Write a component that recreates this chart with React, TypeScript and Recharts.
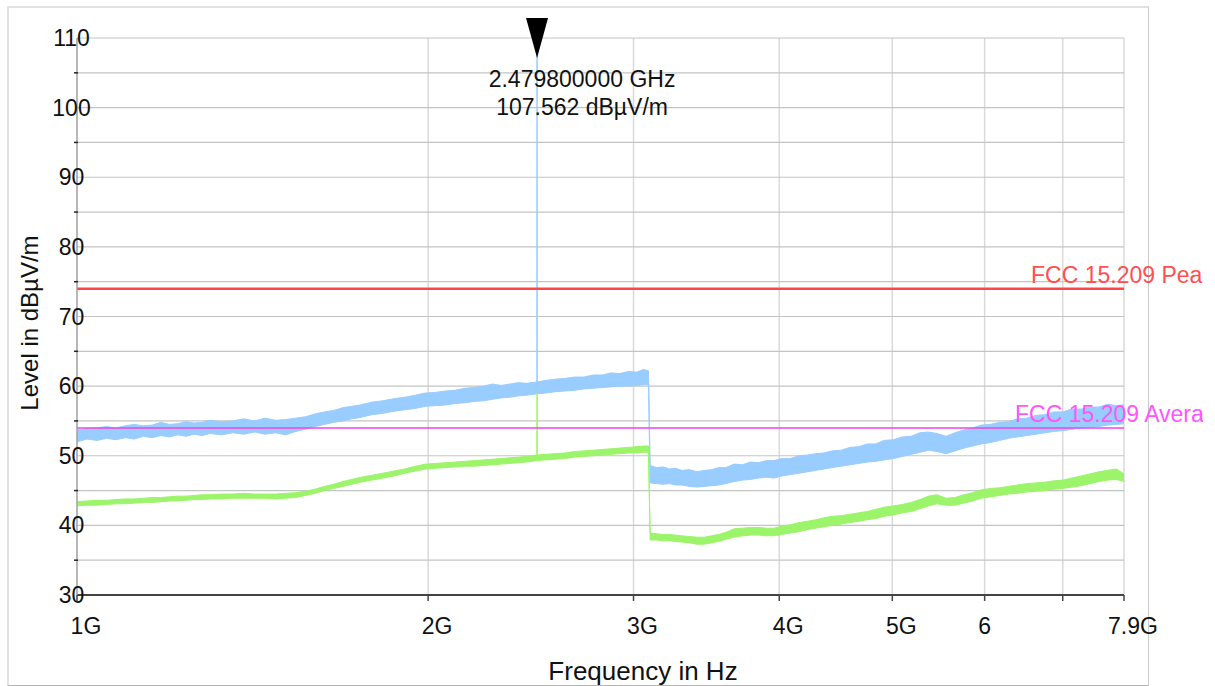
import {
  Area,
  CartesianGrid,
  ComposedChart,
  Customized,
  ReferenceDot,
  ReferenceLine,
  XAxis,
  YAxis,
} from 'recharts';

const FONT = '"Liberation Sans", Arial, Helvetica, sans-serif';

// sweep frequencies in GHz (band split at 3.1 GHz)
const FREQ_GHZ = [
  1.0, 1.02, 1.04, 1.06, 1.08, 1.1, 1.12, 1.14, 1.16, 1.18, 1.2, 1.22, 1.24, 1.26, 1.28, 1.3,
  1.33, 1.36, 1.39, 1.42, 1.45, 1.48, 1.51, 1.54, 1.57, 1.6, 1.63, 1.66, 1.69, 1.72, 1.75,
  1.79, 1.83, 1.87, 1.91, 1.95, 1.99, 2.03, 2.07, 2.11, 2.15, 2.19, 2.23, 2.27, 2.31, 2.35,
  2.39, 2.43, 2.479, 2.4798, 2.4806, 2.52, 2.57, 2.62, 2.67, 2.72, 2.77, 2.82, 2.87, 2.92,
  2.97, 3.02, 3.06, 3.09,
  3.1, 3.14, 3.18, 3.22, 3.26, 3.3, 3.35, 3.4, 3.45, 3.5, 3.55, 3.6, 3.66, 3.72, 3.78, 3.84,
  3.9, 3.96, 4.02, 4.09, 4.16, 4.23, 4.3, 4.37, 4.44, 4.52, 4.6, 4.68, 4.76, 4.84, 4.92,
  5.01, 5.1, 5.19, 5.28, 5.37, 5.46, 5.56, 5.66, 5.76, 5.86, 5.96, 6.07, 6.18, 6.29, 6.4,
  6.52, 6.64, 6.76, 6.88, 7.0, 7.13, 7.26, 7.39, 7.52, 7.65, 7.78, 7.9,
];

// peak detector trace, band bottom / top in dBµV/m
const PEAK_LO = [
  52.0, 52.4, 52.2, 52.5, 52.3, 52.6, 52.4, 52.8, 52.6, 52.9, 52.7, 53.0, 52.8, 53.1, 52.9, 53.2,
  53.0, 53.3, 53.1, 53.4, 53.1, 53.3, 53.0, 53.5, 53.8, 54.2, 54.5, 54.8, 55.0, 55.3, 55.5,
  55.9, 56.1, 56.4, 56.6, 56.8, 57.1, 57.2, 57.3, 57.5, 57.6, 57.8, 57.9, 58.1, 58.3, 58.4,
  58.6, 58.7, 58.9, 59.0, 58.9, 59.0, 59.2, 59.3, 59.4, 59.6, 59.7, 59.8, 59.9, 60.0,
  60.0, 60.1, 60.2, 60.2,
  46.1, 46.0, 45.9, 46.0, 45.8, 45.8, 45.6, 45.5, 45.6, 45.7, 45.8, 46.0, 46.3, 46.5, 46.6, 46.8,
  46.9, 46.8, 47.1, 47.3, 47.5, 47.7, 47.9, 48.1, 48.3, 48.5, 48.7, 48.9, 49.1, 49.2, 49.4,
  49.6, 49.9, 50.2, 50.5, 50.8, 50.6, 50.3, 50.7, 51.1, 51.4, 51.7, 51.9, 52.2, 52.5, 52.7,
  52.9, 53.1, 53.3, 53.5, 53.6, 53.8, 54.0, 54.1, 54.2, 54.4, 54.5, 54.6,
];
const PEAK_HI = [
  53.7, 53.9, 54.0, 54.2, 54.0, 54.3, 54.5, 54.3, 54.4, 54.8, 54.5, 54.6, 54.9, 54.7, 54.8, 55.1,
  54.9, 55.0, 55.3, 55.0, 55.4, 55.1, 55.2, 55.4, 55.6, 56.0, 56.3, 56.5, 56.9, 57.1, 57.3,
  57.7, 57.9, 58.2, 58.4, 58.7, 59.0, 59.1, 59.3, 59.4, 59.7, 59.8, 60.0, 60.3, 60.1, 60.3,
  60.5, 60.4, 60.6, 107.562, 60.6, 60.8, 61.0, 61.1, 61.3, 61.3, 61.6, 61.6, 61.9, 61.8,
  62.1, 62.0, 62.4, 62.2,
  48.6, 48.3, 48.4, 48.1, 48.2, 47.9, 48.0, 47.7, 47.9, 48.0, 48.3, 48.3, 48.8, 48.7, 49.1, 49.0,
  49.3, 49.3, 49.6, 49.6, 50.0, 50.1, 50.3, 50.4, 50.7, 50.8, 51.2, 51.3, 51.7, 51.7, 52.2,
  52.3, 52.7, 52.8, 53.3, 53.4, 53.2, 52.8, 53.3, 53.7, 54.0, 54.4, 54.5, 54.8, 54.9, 55.3,
  55.4, 55.8, 55.9, 56.3, 56.3, 56.7, 56.7, 57.0, 57.0, 57.4, 57.2, 57.3,
];

// average detector trace, band bottom / top in dBµV/m
const AVG_LO = [
  42.8, 42.9, 42.9, 43.0, 43.1, 43.1, 43.2, 43.3, 43.3, 43.4, 43.5, 43.5, 43.6, 43.7, 43.7, 43.8,
  43.8, 43.9, 43.9, 43.9, 43.9, 43.8, 43.9, 44.0, 44.3, 44.6, 45.0, 45.3, 45.6, 45.9, 46.2,
  46.5, 46.8, 47.1, 47.5, 47.8, 48.1, 48.2, 48.3, 48.4, 48.5, 48.5, 48.6, 48.7, 48.8, 48.9,
  49.0, 49.1, 49.3, 49.3, 49.3, 49.4, 49.5, 49.6, 49.8, 49.9, 50.0, 50.1, 50.2, 50.3,
  50.4, 50.4, 50.5, 50.5,
  37.9, 37.9, 37.8, 37.8, 37.7, 37.6, 37.5, 37.3, 37.3, 37.5, 37.7, 38.0, 38.3, 38.5, 38.6, 38.6,
  38.5, 38.5, 38.7, 38.9, 39.1, 39.4, 39.6, 39.8, 40.0, 40.2, 40.4, 40.6, 40.8, 41.0, 41.3,
  41.5, 41.8, 42.0, 42.4, 42.8, 43.1, 42.9, 42.9, 43.2, 43.5, 43.9, 44.1, 44.3, 44.5, 44.6,
  44.8, 44.9, 45.0, 45.2, 45.3, 45.5, 45.7, 46.0, 46.3, 46.5, 46.6, 46.3,
];
const AVG_HI = [
  43.4, 43.5, 43.6, 43.6, 43.7, 43.8, 43.8, 43.9, 44.0, 44.0, 44.1, 44.2, 44.2, 44.3, 44.4, 44.4,
  44.5, 44.5, 44.6, 44.5, 44.5, 44.5, 44.6, 44.7, 44.9, 45.2, 45.6, 45.9, 46.3, 46.6, 46.9,
  47.2, 47.5, 47.8, 48.1, 48.5, 48.8, 48.9, 49.0, 49.1, 49.2, 49.3, 49.4, 49.5, 49.6, 49.7,
  49.8, 49.9, 50.1, 59.0, 50.1, 50.2, 50.3, 50.4, 50.6, 50.7, 50.8, 50.9, 51.0, 51.1,
  51.2, 51.3, 51.4, 51.4,
  38.9, 38.8, 38.7, 38.7, 38.6, 38.5, 38.4, 38.3, 38.3, 38.5, 38.7, 39.0, 39.5, 39.6, 39.7, 39.7,
  39.6, 39.6, 39.9, 40.1, 40.4, 40.6, 40.8, 41.1, 41.3, 41.4, 41.6, 41.8, 42.0, 42.3, 42.6,
  42.8, 43.0, 43.3, 43.7, 44.2, 44.4, 43.9, 44.0, 44.4, 44.7, 45.1, 45.3, 45.4, 45.6, 45.8,
  46.0, 46.1, 46.2, 46.4, 46.5, 46.8, 47.1, 47.4, 47.7, 47.9, 48.1, 47.4,
];

const X_TICKS = [1, 2, 3, 4, 5, 6, 7, 7.9];
const X_TICK_LABELS = ['1G', '2G', '3G', '4G', '5G', '6', '', '7.9G'];
const Y_TICKS = [30, 35, 40, 45, 50, 55, 60, 65, 70, 75, 80, 85, 90, 95, 100, 105, 110];

const PEAK_LIMIT = 74;
const AVG_LIMIT = 54;
const MARKER_FREQ = 2.4798;
const MARKER_LEVEL = 107.562;

const data = FREQ_GHZ.map((f, i) => ({
  f,
  peak: [PEAK_LO[i], PEAK_HI[i]],
  avg: [AVG_LO[i], AVG_HI[i]],
}));

// rough Arial advance widths, to centre the number part of a tick label
const numWidth = (s: string, size: number) =>
  [...s].reduce((w, c) => w + (c === '.' ? 0.278 : 0.556), 0) * size;

function XTick({ x, y, payload }: any) {
  const label = X_TICK_LABELS[X_TICKS.indexOf(payload.value)];
  if (!label) return null;
  const num = label.replace('G', '');
  return (
    <text x={x - numWidth(num, 23) / 2} y={y + 31} fontSize={23} fontFamily={FONT} fill="#111">
      {label}
    </text>
  );
}

function YTick({ x, y, payload }: any) {
  if (payload.value % 10 !== 0) {
    return <line x1={x - 3} x2={x + 1} y1={y} y2={y} stroke="#222" strokeWidth={1.5} />;
  }
  return (
    <text x={x - 5.5} y={y + 8} textAnchor="middle" fontSize={23} fontFamily={FONT} fill="#111">
      {payload.value}
    </text>
  );
}

function LimitLabel({ viewBox, text, color, dx }: any) {
  if (!viewBox) return null;
  return (
    <text x={viewBox.x + viewBox.width - dx} y={viewBox.y - 6} fontSize={23} fontFamily={FONT} fill={color}>
      {text}
    </text>
  );
}

function Marker({ cx, cy }: any) {
  return (
    <g>
      <polygon points={`${cx - 11},${cy - 37} ${cx + 11},${cy - 37} ${cx},${cy + 3}`} fill="#000" />
      <text x={cx + 45} y={cy + 32} textAnchor="middle" fontSize={23} fontFamily={FONT} fill="#111">
        {MARKER_FREQ.toFixed(9)} GHz
      </text>
      <text x={cx + 45} y={cy + 60} textAnchor="middle" fontSize={23} fontFamily={FONT} fill="#111">
        {MARKER_LEVEL.toFixed(3)} dBµV/m
      </text>
    </g>
  );
}

function Titles() {
  return (
    <g fontFamily={FONT} fill="#111">
      <text x={643} y={680} textAnchor="middle" fontSize={26}>
        Frequency in Hz
      </text>
      <text transform="translate(38,323) rotate(-90)" textAnchor="middle" fontSize={24}>
        Level in dBµV/m
      </text>
    </g>
  );
}

export default function App() {
  return (
    <div style={{ position: 'fixed', left: 0, top: 0, width: 1215, height: 686, overflow: 'hidden', background: '#fff' }}>
      <div
        style={{
          position: 'absolute',
          left: 7,
          top: 6,
          width: 1142,
          height: 680,
          boxSizing: 'border-box',
          borderTop: '2px solid #e2e2e2',
          borderLeft: '2px solid #e2e2e2',
          borderRight: '1.5px solid #cccccc',
          borderBottom: '1.5px solid #b4b4b4',
        }}
      />
      <div style={{ position: 'absolute', left: 0, top: 0 }}>
        <ComposedChart
          width={1203}
          height={686}
          data={data}
          margin={{ top: 38, right: 79, bottom: 31, left: 17 }}
        >
          <CartesianGrid horizontal={false} stroke="#dadada" strokeWidth={1.5} />
          <CartesianGrid vertical={false} stroke="#c4c4c4" strokeWidth={1.2} />
          <XAxis
            dataKey="f"
            type="number"
            scale="log"
            domain={[1, 7.9]}
            ticks={X_TICKS}
            tick={<XTick />}
            height={60}
            axisLine={{ stroke: '#444', strokeWidth: 2 }}
            tickLine={{ stroke: '#444', strokeWidth: 1.5 }}
            interval={0}
          />
          <YAxis
            type="number"
            domain={[30, 110]}
            ticks={Y_TICKS}
            tick={<YTick />}
            width={60}
            tickSize={0}
            tickMargin={0}
            tickLine={false}
            axisLine={{ stroke: '#999', strokeWidth: 1.2 }}
            interval={0}
          />
          <Area
            type="linear"
            dataKey="peak"
            stroke="#99ccff"
            strokeWidth={1}
            fill="#99ccff"
            fillOpacity={1}
            isAnimationActive={false}
          />
          <Area
            type="linear"
            dataKey="avg"
            stroke="#9cf46a"
            strokeWidth={1}
            fill="#9cf46a"
            fillOpacity={1}
            isAnimationActive={false}
          />
          <ReferenceLine
            y={PEAK_LIMIT}
            stroke="#ff4646"
            strokeWidth={2.5}
            label={<LimitLabel text="FCC 15.209 Peak" color="#ff5050" dx={93} />}
          />
          <ReferenceLine
            y={AVG_LIMIT}
            stroke="#ee44ee"
            strokeWidth={1.5}
            label={<LimitLabel text="FCC 15.209 Average" color="#ff55ff" dx={109} />}
          />
          <ReferenceDot x={MARKER_FREQ} y={MARKER_LEVEL} r={0} shape={<Marker />} />
          <Customized component={<Titles />} />
        </ComposedChart>
      </div>
    </div>
  );
}
